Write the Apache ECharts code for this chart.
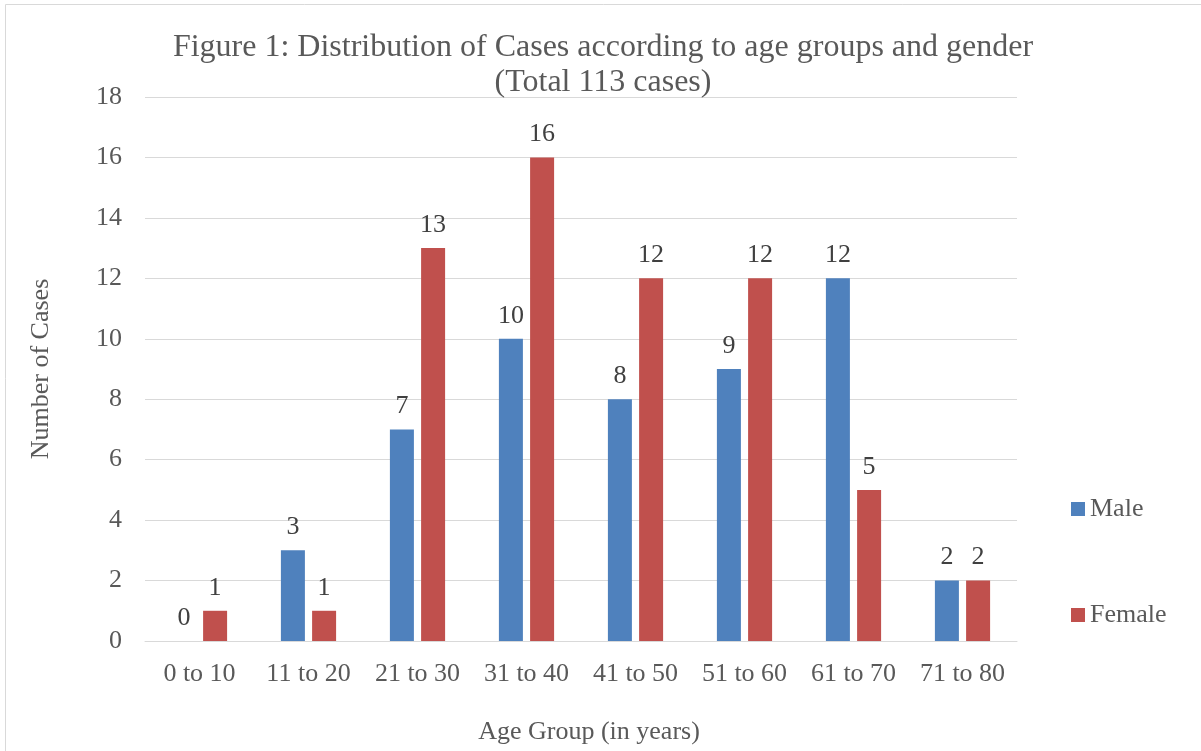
<!DOCTYPE html>
<html><head><meta charset="utf-8">
<script src="https://cdn.jsdelivr.net/npm/echarts@6/dist/echarts.min.js"></script>
<style>html,body{margin:0;padding:0;background:#fff}#c{width:1201px;height:751px}</style>
</head><body><div id="c"></div>
<script>
var categories = ['0 to 10','11 to 20','21 to 30','31 to 40','41 to 50','51 to 60','61 to 70','71 to 80'];
var male = [0,3,7,10,8,9,12,2];
var female = [1,1,13,16,12,12,5,2];
var font = '"Liberation Serif", "Times New Roman", serif';
var chart = echarts.init(document.getElementById('c'), null, {renderer:'canvas'});
var lbl = {show:true, position:'top', distance:10, color:'#404040', fontFamily:font, fontSize:26};
chart.setOption({
  animation:false,
  textStyle:{fontFamily:font},
  graphic:[{type:'rect', shape:{x:5.5,y:4.5,width:1210,height:760}, style:{fill:'none', stroke:'#d9d9d9', lineWidth:1}, silent:true, z:-1}],
  title:{text:'Figure 1: Distribution of Cases according to age groups and gender\n(Total 113 cases)', left:598, textAlign:'center', top:25,
    textStyle:{fontFamily:font, fontSize:32, fontWeight:'normal', color:'#595959', lineHeight:35}},
  legend:{orient:'vertical', left:1066, top:491, itemGap:80, itemWidth:14, itemHeight:14, icon:'rect',
    textStyle:{fontFamily:font, fontSize:26, color:'#595959'}},
  grid:{left:145, right:184, top:97, bottom:110, containLabel:false, outerBoundsMode:'none'},
  xAxis:{type:'category', data:categories, name:'Age Group (in years)', nameLocation:'middle', nameGap:78,
    nameTextStyle:{fontFamily:font, fontSize:26, color:'#595959', padding:[0,0,0,16]},
    axisLine:{lineStyle:{color:'#d9d9d9', width:1}}, axisTick:{show:false},
    axisLabel:{fontFamily:font, fontSize:26, color:'#595959', margin:20, interval:0}},
  yAxis:{type:'value', min:0, max:18, interval:2, name:'Number of Cases', nameLocation:'middle', nameGap:91, nameRotate:90,
    nameTextStyle:{fontFamily:font, fontSize:26, color:'#595959'},
    axisLine:{show:false}, axisTick:{show:false},
    splitLine:{lineStyle:{color:'#d9d9d9', width:1}},
    axisLabel:{fontFamily:font, fontSize:26, color:'#595959', margin:23}},
  series:[
    {name:'Male', type:'bar', data:male, barWidth:24, barGap:'30%', itemStyle:{color:'#4F81BD'}, label:lbl},
    {name:'Female', type:'bar', data:female, barWidth:24, barGap:'30%', itemStyle:{color:'#C0504D'}, label:lbl}
  ]
});
</script></body></html>
